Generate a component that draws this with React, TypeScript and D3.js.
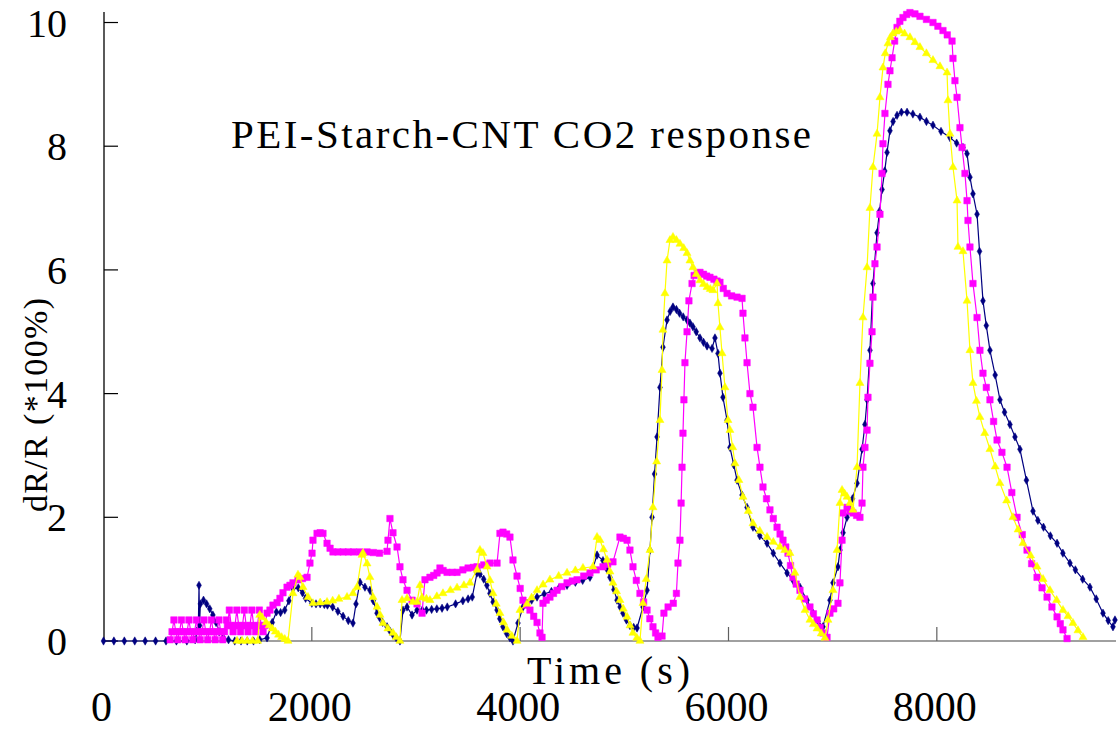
import React from "react";
import * as d3 from "d3";

type Pt = [number, number];

const xTicks = [0, 2000, 4000, 6000, 8000];
const yTicks = [0, 2, 4, 6, 8, 10];
const titleText = "PEI-Starch-CNT CO2 response";
const xLabel = "Time (s)";
const yLabel = "dR/R (*100%)";

const navy: Pt[] = [
  [0, 0], [100, 0], [200, 0], [300, 0], [400, 0], [500, 0], [600, 0], [700, 0], [800, 0],
  [880, 0.02], [910, 0.2], [917, 0.9], [922, 0.25], [930, 0.6], [960, 0.66], [990, 0.6],
  [1020, 0.52], [1050, 0.42], [1080, 0.3], [1110, 0.15], [1150, 0.05], [1200, 0.02],
  [1260, 0], [1320, 0], [1380, 0], [1440, 0], [1500, 0.02], [1570, 0.05], [1620, 0.3],
  [1660, 0.47], [1700, 0.46], [1740, 0.5], [1780, 0.65], [1820, 0.85], [1870, 0.86],
  [1910, 0.78], [1940, 0.69], [2000, 0.61], [2040, 0.6], [2080, 0.6], [2120, 0.59],
  [2150, 0.58], [2200, 0.55], [2250, 0.48], [2300, 0.4], [2350, 0.33], [2395, 0.29],
  [2424, 0.6], [2462, 0.95], [2510, 0.87], [2558, 0.82], [2590, 0.65], [2626, 0.45],
  [2650, 0.38], [2680, 0.3], [2722, 0.23], [2750, 0.16], [2780, 0.1], [2810, 0.05],
  [2846, 0.0], [2875, 0.5], [2914, 0.55], [2962, 0.42], [3010, 0.5], [3060, 0.5],
  [3100, 0.5], [3150, 0.51], [3200, 0.52], [3250, 0.53], [3300, 0.55], [3380, 0.6],
  [3450, 0.65], [3500, 0.68], [3540, 0.71], [3586, 1.1], [3614, 1.08], [3650, 1.0],
  [3680, 0.9], [3710, 0.77], [3740, 0.63], [3778, 0.5], [3805, 0.36], [3835, 0.23],
  [3870, 0.12], [3902, 0.05], [3931, 0], [3979, 0.29], [4027, 0.55], [4066, 0.61],
  [4110, 0.66], [4162, 0.71], [4230, 0.76], [4300, 0.8], [4370, 0.85], [4450, 0.9],
  [4530, 0.95], [4600, 0.98], [4670, 1.03], [4738, 1.39], [4795, 1.3], [4830, 1.17],
  [4862, 1.03], [4900, 0.83], [4930, 0.66], [4960, 0.55], [4987, 0.45], [5020, 0.34],
  [5054, 0.25], [5090, 0.22], [5122, 0.21], [5179, 0.55], [5218, 0.82], [5246, 1.47],
  [5266, 2.0], [5290, 2.7], [5314, 3.3], [5342, 4.1], [5371, 4.75], [5410, 5.19],
  [5440, 5.33], [5467, 5.4], [5500, 5.36], [5530, 5.3], [5565, 5.24], [5602, 5.19],
  [5630, 5.14], [5659, 5.08], [5690, 5.0], [5726, 4.9], [5760, 4.83], [5794, 4.77],
  [5842, 4.73], [5870, 4.9], [5899, 4.65], [5918, 4.33], [5947, 3.94], [5986, 3.57],
  [6014, 3.13], [6050, 2.85], [6082, 2.6], [6130, 2.36], [6178, 2.16], [6235, 1.84],
  [6300, 1.7], [6370, 1.58], [6430, 1.42], [6494, 1.26], [6562, 1.1], [6620, 0.98],
  [6686, 0.87], [6754, 0.66], [6811, 0.45], [6860, 0.32], [6907, 0.23], [6974, 0.66],
  [7003, 0.94], [7051, 1.2], [7070, 1.47], [7100, 1.75], [7138, 2.0], [7190, 2.3],
  [7234, 2.55], [7282, 3.1], [7310, 3.5], [7330, 3.9], [7358, 4.7], [7387, 5.78],
  [7426, 6.6], [7450, 6.95], [7474, 7.3], [7500, 7.6], [7522, 7.9], [7550, 8.25],
  [7580, 8.4], [7618, 8.5], [7660, 8.55], [7714, 8.55], [7770, 8.52], [7838, 8.47],
  [7900, 8.4], [7963, 8.34], [8040, 8.24], [8126, 8.14], [8190, 8.05], [8251, 7.98],
  [8290, 7.88], [8318, 7.5], [8347, 7.23], [8386, 6.9], [8410, 6.3], [8443, 5.5],
  [8475, 5.1], [8510, 4.7], [8560, 4.3], [8606, 3.9], [8650, 3.7], [8702, 3.5],
  [8750, 3.3], [8798, 3.1], [8860, 2.6], [8923, 2.1], [8970, 1.95], [9024, 1.84],
  [9090, 1.7], [9154, 1.58], [9210, 1.42], [9278, 1.26], [9330, 1.15], [9400, 1.0],
  [9470, 0.87], [9530, 0.68], [9595, 0.45], [9645, 0.33], [9691, 0.23], [9710, 0.34],
];

const magenta: Pt[] = [
  [640, 0.02], [658, 0.15], [676, 0.34], [694, 0.15], [712, 0.02], [730, 0.15],
  [748, 0.34], [766, 0.15], [784, 0.02], [802, 0.15], [820, 0.34], [838, 0.15],
  [856, 0.02], [874, 0.15], [892, 0.34], [910, 0.15], [928, 0.02], [946, 0.15],
  [964, 0.34], [982, 0.15], [1000, 0.02], [1018, 0.15], [1036, 0.34], [1054, 0.15],
  [1072, 0.02], [1090, 0.15], [1108, 0.34], [1126, 0.15], [1144, 0.02], [1162, 0.15],
  [1180, 0.34],
  [1190, 0.25], [1208, 0.5], [1226, 0.25], [1244, 0.15], [1262, 0.25], [1280, 0.5],
  [1298, 0.25], [1316, 0.15], [1334, 0.25], [1352, 0.5], [1370, 0.25], [1388, 0.15],
  [1406, 0.25], [1424, 0.5], [1442, 0.25], [1460, 0.15], [1478, 0.25], [1496, 0.5],
  [1514, 0.25], [1532, 0.15], [1550, 0.25], [1570, 0.45],
  [1598, 0.5], [1627, 0.58], [1666, 0.62], [1694, 0.69], [1723, 0.78], [1762, 0.87],
  [1790, 0.9], [1819, 0.94], [1867, 0.99], [1910, 1.01], [1954, 1.03], [1982, 1.26],
  [2002, 1.42], [2011, 1.63], [2050, 1.74], [2080, 1.75], [2107, 1.74], [2146, 1.58],
  [2175, 1.5], [2203, 1.44], [2250, 1.44], [2300, 1.44], [2350, 1.44], [2400, 1.44],
  [2460, 1.44], [2530, 1.44], [2590, 1.43], [2650, 1.42], [2722, 1.45], [2731, 1.63],
  [2750, 1.98], [2779, 1.75], [2818, 1.52], [2846, 1.2], [2875, 0.99], [2914, 0.82],
  [2962, 0.66], [3010, 0.6], [3058, 0.45], [3086, 0.99], [3134, 1.03], [3170, 1.06],
  [3202, 1.1], [3230, 1.18], [3260, 1.14], [3298, 1.11], [3350, 1.11], [3394, 1.11],
  [3450, 1.15], [3500, 1.18], [3550, 1.19], [3586, 1.2], [3650, 1.23], [3710, 1.26],
  [3778, 1.26], [3806, 1.74], [3835, 1.76], [3870, 1.73], [3902, 1.68], [3931, 1.31],
  [3970, 1.05], [4000, 0.85], [4027, 0.66], [4060, 0.58], [4094, 0.5], [4130, 0.4],
  [4162, 0.3], [4190, 0.13], [4210, 0.06], [4219, 0.61], [4250, 0.66], [4286, 0.71],
  [4320, 0.77], [4354, 0.82], [4400, 0.88], [4450, 0.94], [4500, 0.97], [4546, 0.99],
  [4610, 1.05], [4670, 1.1], [4730, 1.15], [4795, 1.2], [4840, 1.24], [4891, 1.28],
  [4958, 1.68], [4990, 1.66], [5026, 1.63], [5054, 1.47], [5083, 1.2], [5115, 0.98],
  [5150, 0.77], [5185, 0.63], [5218, 0.5], [5245, 0.36], [5275, 0.23], [5300, 0.13],
  [5323, 0.06], [5362, 0.08], [5380, 0.45], [5420, 0.55], [5470, 0.61], [5500, 0.77],
  [5515, 1.26], [5534, 1.63], [5545, 2.23], [5554, 2.81], [5563, 3.36], [5572, 3.9],
  [5582, 4.5], [5602, 5.0], [5620, 5.5], [5650, 5.78], [5670, 5.91], [5700, 5.95],
  [5726, 5.96], [5760, 5.93], [5790, 5.9], [5822, 5.88], [5860, 5.85], [5890, 5.82],
  [5918, 5.8], [5950, 5.7], [5986, 5.62], [6030, 5.58], [6082, 5.56], [6130, 5.54],
  [6139, 5.3], [6158, 4.9], [6178, 4.5], [6206, 4.0], [6235, 3.78], [6274, 3.13],
  [6302, 2.81], [6331, 2.49], [6365, 2.3], [6398, 2.12], [6430, 1.98], [6466, 1.84],
  [6495, 1.73], [6523, 1.63], [6550, 1.52], [6571, 1.42], [6595, 1.22], [6619, 1.03],
  [6650, 0.92], [6686, 0.82], [6730, 0.68], [6782, 0.55], [6815, 0.44], [6850, 0.34],
  [6880, 0.22], [6907, 0.13], [6946, 0.06], [6974, 0.45], [7010, 0.52], [7051, 0.61],
  [7070, 0.94], [7090, 1.63], [7099, 2.07], [7138, 2.16], [7165, 2.1], [7195, 2.07],
  [7230, 2.03], [7262, 2.0], [7282, 2.23], [7291, 2.81], [7310, 3.13], [7330, 3.41],
  [7339, 3.94], [7358, 4.49], [7378, 5.0], [7387, 5.56], [7406, 6.1], [7426, 6.37],
  [7454, 6.9], [7474, 7.56], [7483, 8.04], [7502, 8.53], [7531, 9.0], [7550, 9.22],
  [7570, 9.43], [7595, 9.7], [7618, 9.92], [7645, 10.02], [7675, 10.08], [7710, 10.13],
  [7742, 10.16], [7790, 10.14], [7838, 10.1], [7900, 10.05], [7963, 10.0], [8010, 9.94],
  [8059, 9.87], [8100, 9.8], [8146, 9.7], [8155, 9.42], [8174, 9.06], [8194, 8.79],
  [8222, 8.3], [8242, 7.98], [8270, 7.56], [8290, 7.12], [8299, 6.8], [8318, 6.37],
  [8347, 5.78], [8386, 5.23], [8414, 4.7], [8443, 4.33], [8475, 4.1], [8510, 3.9],
  [8545, 3.55], [8578, 3.25], [8625, 3.05], [8674, 2.81], [8720, 2.4], [8770, 2.0],
  [8820, 1.72], [8866, 1.47], [8910, 1.25], [8962, 1.03], [9010, 0.86], [9058, 0.71],
  [9105, 0.55], [9154, 0.39], [9185, 0.28], [9211, 0.18], [9250, 0.04],
];

const yellow: Pt[] = [
  [1282, 0], [1330, 0], [1380, 0], [1430, 0], [1480, 0], [1500, 0.42], [1522, 0.38],
  [1560, 0.3], [1590, 0.25], [1620, 0.2], [1650, 0.15], [1680, 0.1], [1710, 0.06],
  [1740, 0.03], [1771, 0], [1819, 0.77], [1867, 1.07], [1886, 1.03], [1915, 0.87],
  [1963, 0.71], [2011, 0.61], [2080, 0.62], [2146, 0.63], [2200, 0.65], [2260, 0.68],
  [2338, 0.71], [2395, 0.77], [2434, 0.87], [2482, 1.39], [2491, 1.42], [2530, 1.25],
  [2558, 1.03], [2587, 0.71], [2626, 0.55], [2655, 0.42], [2683, 0.29], [2730, 0.2],
  [2779, 0.13], [2810, 0.06], [2846, 0], [2866, 0.66], [2914, 0.69], [2971, 0.63],
  [3010, 0.63], [3038, 0.9], [3058, 0.7], [3100, 0.68], [3134, 0.66], [3200, 0.72],
  [3259, 0.77], [3330, 0.82], [3394, 0.86], [3460, 0.9], [3518, 0.94], [3586, 1.15],
  [3614, 1.47], [3643, 1.42], [3682, 1.2], [3710, 0.98], [3739, 0.77], [3770, 0.6],
  [3806, 0.45], [3840, 0.3], [3874, 0.18], [3920, 0.08], [3970, 0], [3998, 0.5],
  [4066, 0.6], [4110, 0.7], [4162, 0.82], [4220, 0.91], [4286, 0.99], [4370, 1.05],
  [4450, 1.1], [4530, 1.14], [4603, 1.18], [4699, 1.2], [4738, 1.68], [4766, 1.63],
  [4800, 1.48], [4834, 1.31], [4862, 1.12], [4891, 0.94], [4925, 0.8], [4958, 0.66],
  [4990, 0.52], [5026, 0.39], [5055, 0.25], [5083, 0.13], [5120, 0.05], [5150, 0],
  [5179, 0.61], [5210, 1.0], [5246, 1.47], [5275, 2.16], [5310, 2.9], [5342, 3.57],
  [5362, 4.38], [5371, 5.03], [5390, 5.62], [5410, 6.15], [5438, 6.48], [5467, 6.53],
  [5500, 6.48], [5534, 6.42], [5570, 6.35], [5602, 6.27], [5630, 6.15], [5659, 6.04],
  [5690, 5.93], [5726, 5.83], [5760, 5.77], [5794, 5.72], [5825, 5.69], [5851, 5.67],
  [5890, 5.78], [5899, 5.46], [5918, 5.07], [5938, 4.65], [5966, 4.1], [5995, 3.57],
  [6014, 3.41], [6040, 3.13], [6062, 2.87], [6100, 2.6], [6139, 2.33], [6190, 2.1],
  [6235, 1.9], [6300, 1.78], [6370, 1.68], [6430, 1.6], [6494, 1.52], [6540, 1.47],
  [6590, 1.42], [6638, 1.1], [6686, 0.71], [6735, 0.5], [6782, 0.34], [6815, 0.27],
  [6850, 0.2], [6890, 0.12], [6926, 0.05], [6955, 0.34], [7003, 0.82], [7042, 1.47],
  [7070, 2.23], [7090, 2.44], [7115, 2.38], [7138, 2.33], [7166, 2.23], [7195, 2.12],
  [7234, 2.81], [7262, 4.17], [7291, 5.23], [7330, 6.04], [7358, 7.0], [7387, 7.66],
  [7426, 8.2], [7454, 8.79], [7483, 9.27], [7505, 9.5], [7531, 9.66], [7555, 9.76],
  [7579, 9.82], [7610, 9.85], [7646, 9.87], [7690, 9.82], [7742, 9.76], [7790, 9.68],
  [7838, 9.6], [7900, 9.5], [7963, 9.39], [8030, 9.29], [8098, 9.19], [8107, 8.74],
  [8126, 8.2], [8155, 7.66], [8194, 7.12], [8203, 6.37], [8251, 6.3], [8290, 5.5],
  [8318, 4.7], [8347, 4.17], [8380, 3.88], [8414, 3.62], [8460, 3.36], [8510, 3.1],
  [8560, 2.82], [8606, 2.55], [8670, 2.27], [8731, 2.0], [8780, 1.8], [8827, 1.58],
  [8900, 1.38], [8962, 1.2], [9020, 1.0], [9086, 0.82], [9150, 0.66], [9211, 0.5],
  [9260, 0.4], [9307, 0.29], [9355, 0.17], [9403, 0.06],
];

const W = 1119;
const H = 732;
const numFont = "'Liberation Serif', 'Times New Roman', serif";

export default function App() {
  const x = d3.scaleLinear().domain([0, 9720]).range([103.5, 1116]);
  const y = d3.scaleLinear().domain([0, 10.17]).range([641, 12]);
  const line = d3
    .line<Pt>()
    .x((d) => x(d[0]))
    .y((d) => y(d[1]));

  const series = [
    { data: navy, color: "#000080", sym: d3.symbol().type(d3.symbolDiamond).size(20)() },
    { data: magenta, color: "#FF00FF", sym: d3.symbol().type(d3.symbolSquare).size(42)() },
    { data: yellow, color: "#FFFF00", sym: d3.symbol().type(d3.symbolTriangle).size(28)() },
  ];

  return (
    <svg
      width={W}
      height={H}
      style={{ position: "absolute", left: 0, top: 0, background: "#fff" }}
    >
      <rect x={0} y={0} width={W} height={H} fill="#fff" />
      {/* x axis */}
      <line x1={x(0)} x2={x(9720)} y1={y(0)} y2={y(0)} stroke="#808080" strokeWidth={1.5} />
      {xTicks.map((t) => (
        <g key={"xt" + t}>
          {t > 0 && (
            <line x1={x(t)} x2={x(t)} y1={y(0)} y2={y(0) - 14} stroke="#606060" strokeWidth={1.2} />
          )}
          <text
            x={x(t) - 2}
            y={721}
            textAnchor="middle"
            fontFamily={numFont}
            fontSize={42}
            fill="#000"
          >
            {t}
          </text>
        </g>
      ))}
      {/* y axis */}
      <line x1={104} x2={104} y1={y(0)} y2={12} stroke="#000" strokeWidth={1.3} />
      {yTicks.map((t) => (
        <g key={"yt" + t}>
          <line x1={104} x2={118} y1={y(t)} y2={y(t)} stroke="#000" strokeWidth={1.2} />
          <text
            x={67}
            y={y(t) + 14}
            textAnchor="end"
            fontFamily={numFont}
            fontSize={40}
            fill="#000"
          >
            {t}
          </text>
        </g>
      ))}
      {/* series */}
      {series.map((s, i) => (
        <g key={"s" + i}>
          <path d={line(s.data) || ""} fill="none" stroke={s.color} strokeWidth={1.2} />
          {s.data.map((d, j) => (
            <path
              key={j}
              d={s.sym || ""}
              transform={`translate(${x(d[0])},${y(d[1])})`}
              fill={s.color}
              stroke={s.color}
              strokeWidth={0.5}
            />
          ))}
        </g>
      ))}
      {/* title */}
      <text
        x={231}
        y={148}
        fontFamily={numFont}
        fontSize={41}
        textLength={580}
        lengthAdjust="spacing"
        fill="#000"
      >
        {titleText}
      </text>
      {/* x label */}
      <text
        x={527}
        y={684}
        fontFamily={numFont}
        fontSize={40}
        textLength={163}
        lengthAdjust="spacing"
        fill="#000"
      >
        {xLabel}
      </text>
      {/* y label */}
      <text
        transform="translate(47,512) rotate(-90)"
        x={0}
        y={0}
        fontFamily={numFont}
        fontSize={34}
        textLength={214}
        lengthAdjust="spacing"
        fill="#000"
      >
        {yLabel}
      </text>
    </svg>
  );
}
